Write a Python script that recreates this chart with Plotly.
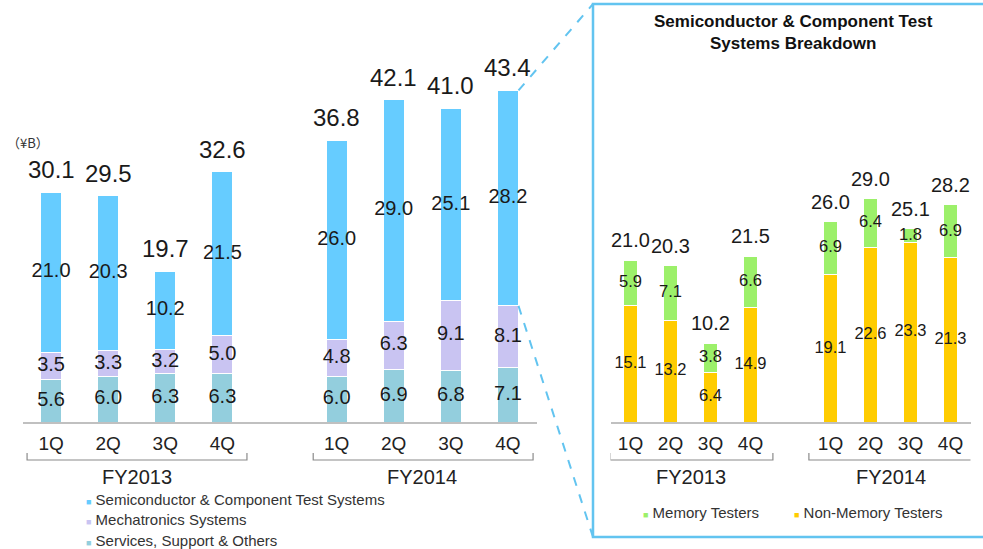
import plotly.graph_objects as go

# ---------------- data ----------------
quarters = ["1Q", "2Q", "3Q", "4Q"]
fiscal_years = ["FY2013", "FY2014"]

services = [5.6, 6.0, 6.3, 6.3, 6.0, 6.9, 6.8, 7.1]
mechatronics = [3.5, 3.3, 3.2, 5.0, 4.8, 6.3, 9.1, 8.1]
semicon = [21.0, 20.3, 10.2, 21.5, 26.0, 29.0, 25.1, 28.2]
totals_left = [30.1, 29.5, 19.7, 32.6, 36.8, 42.1, 41.0, 43.4]

non_memory = [15.1, 13.2, 6.4, 14.9, 19.1, 22.6, 23.3, 21.3]
memory = [5.9, 7.1, 3.8, 6.6, 6.9, 6.4, 1.8, 6.9]
totals_right = [21.0, 20.3, 10.2, 21.5, 26.0, 29.0, 25.1, 28.2]

left_series = [
    ("Services, Support & Others", services),
    ("Mechatronics Systems", mechatronics),
    ("Semiconductor & Component Test Systems", semicon),
]
right_series = [
    ("Non-Memory Testers", non_memory),
    ("Memory Testers", memory),
]

# ---------------- styles ----------------
W, H = 983, 549
FONT = "Liberation Sans, Arial, sans-serif"
TXT = "#1a1a1a"
COLORS = {
    "Semiconductor & Component Test Systems": "#66CCFF",
    "Mechatronics Systems": "#C9C4F2",
    "Services, Support & Others": "#93CEDD",
    "Memory Testers": "#9CF06A",
    "Non-Memory Testers": "#FFCC00",
}
BOX = "#62C4F0"
BAR_W = 0.37

xpos = [g * 5 + q for g in range(len(fiscal_years)) for q in range(len(quarters))]
ticktext = quarters * len(fiscal_years)


def px_x(p):
    return p / W


def px_y(p):
    return 1 - p / H


# domains (pixel based)
LX = (px_x(22.5), px_x(536.5))
LY = (px_y(422), px_y(40))
LYMAX = 50.0
RX = (px_x(610.5), px_x(970.5))
RY = (px_y(422), px_y(422 - 50 * 7.7))
RYMAX = 50.0
XR = (-0.5, 8.5)

fig = go.Figure()


def add_stack(series, xa, ya, size):
    base = [0.0] * len(xpos)
    for name, vals in series:
        fig.add_trace(go.Bar(
            x=xpos, y=vals, name=name, width=BAR_W,
            marker=dict(color=COLORS[name], line=dict(color="white", width=1)),
            xaxis=xa, yaxis=ya, showlegend=False, hoverinfo="skip",
        ))
        mids = [b + v / 2 for b, v in zip(base, vals)]
        fig.add_trace(go.Scatter(
            x=xpos, y=mids, mode="text", text=[f"{v:.1f}" for v in vals],
            textposition="middle center",
            textfont=dict(size=size, color=TXT, family=FONT),
            xaxis=xa, yaxis=ya, showlegend=False, hoverinfo="skip", cliponaxis=False,
        ))
        base = [b + v for b, v in zip(base, vals)]


add_stack(left_series, "x", "y", 20)
add_stack(right_series, "x2", "y2", 16.5)

annotations = []
for x, t in zip(xpos, totals_left):
    annotations.append(dict(x=x, y=t, xref="x", yref="y", text=f"{t:.1f}", showarrow=False,
                            xanchor="center", yanchor="middle", yshift=23,
                            font=dict(size=24, color=TXT, family=FONT)))
for x, t in zip(xpos, totals_right):
    annotations.append(dict(x=x, y=t, xref="x2", yref="y2", text=f"{t:.1f}", showarrow=False,
                            xanchor="center", yanchor="middle", yshift=20,
                            font=dict(size=20, color=TXT, family=FONT)))

# fiscal year labels
for gi, fy in enumerate(fiscal_years):
    cx = gi * 5 + 1.5
    for xa in ("x", "x2"):
        annotations.append(dict(x=cx, y=px_y(477), xref=xa, yref="paper", text=fy, showarrow=False,
                                xanchor="center", yanchor="middle",
                                font=dict(size=20, color="#222", family=FONT)))

# unit
annotations.append(dict(x=px_x(5), y=px_y(143), xref="paper", yref="paper", text="（¥B）",
                        xanchor="left", yanchor="middle", showarrow=False,
                        font=dict(size=13, color="#333", family="Noto Sans CJK JP, sans-serif")))

# title of breakdown panel
annotations.append(dict(x=px_x(793), y=px_y(33), xref="paper", yref="paper",
                        text="<b>Semiconductor & Component Test<br>Systems Breakdown</b>",
                        xanchor="center", yanchor="middle",
                        showarrow=False, font=dict(size=17, color="#111", family=FONT)))

# legends (as text)
left_legend = ["Semiconductor & Component Test Systems", "Mechatronics Systems", "Services, Support & Others"]
for i, name in enumerate(left_legend):
    annotations.append(dict(
        x=px_x(84), y=px_y(499 + i * 20.5), xref="paper", yref="paper", xanchor="left", yanchor="middle",
        text=f"<span style='color:{COLORS[name]};font-size:9px'>■</span> {name}",
        showarrow=False, font=dict(size=15, color="#333", family=FONT)))
for xl, name in zip([641, 792], ["Memory Testers", "Non-Memory Testers"]):
    annotations.append(dict(
        x=px_x(xl), y=px_y(512), xref="paper", yref="paper", xanchor="left", yanchor="middle",
        text=f"<span style='color:{COLORS[name]};font-size:9px'>■</span> {name}",
        showarrow=False, font=dict(size=15, color="#333", family=FONT)))

shapes = []
# group brackets
brk_y0, brk_y1 = px_y(453), px_y(460)
for xa, spans in [("x", [(-0.42, 3.43), (4.59, 8.44)]), ("x2", [(-0.51, 3.56), (4.46, 8.56)])]:
    for a, b in spans:
        shapes.append(dict(type="path", xref=xa, yref="paper",
                           path=f"M {a},{brk_y0} L {a},{brk_y1} L {b},{brk_y1} L {b},{brk_y0}",
                           line=dict(color="#8a8a8a", width=1.2)))

# breakdown panel box
box_x0, box_y0, box_y1 = px_x(593), px_y(537), px_y(4)
shapes.append(dict(type="rect", xref="paper", yref="paper", x0=box_x0, x1=1.01, y0=box_y0, y1=box_y1,
                   line=dict(color=BOX, width=2.5), fillcolor="rgba(255,255,255,0)", layer="below"))


# dashed connectors from last bar to panel
def data_to_paper_x(x):
    return LX[0] + (x - XR[0]) / (XR[1] - XR[0]) * (LX[1] - LX[0])


def data_to_paper_y(y):
    return LY[0] + y / LYMAX * (LY[1] - LY[0])


last = len(xpos) - 1
bx = data_to_paper_x(xpos[last] + BAR_W / 2)
top_y = data_to_paper_y(totals_left[last])
mech_top = data_to_paper_y(services[last] + mechatronics[last])
shapes.append(dict(type="line", xref="paper", yref="paper", x0=bx, y0=top_y, x1=box_x0, y1=box_y1,
                   line=dict(color=BOX, width=2, dash="dash")))
shapes.append(dict(type="line", xref="paper", yref="paper", x0=bx, y0=mech_top, x1=box_x0, y1=box_y0,
                   line=dict(color=BOX, width=2, dash="dash")))

xaxis_common = dict(range=list(XR), tickvals=xpos, ticktext=ticktext, showgrid=False, zeroline=False,
                    showline=True, linecolor="#c0c0c0", linewidth=2, ticks="outside", ticklen=3,
                    tickcolor="rgba(0,0,0,0)", tickfont=dict(size=19, color="#222", family=FONT),
                    fixedrange=True)
yaxis_common = dict(visible=False, showgrid=False, zeroline=False, fixedrange=True)

fig.update_layout(
    width=W, height=H, margin=dict(l=0, r=0, t=0, b=0),
    paper_bgcolor="white", plot_bgcolor="rgba(0,0,0,0)",
    barmode="stack", showlegend=False,
    font=dict(family=FONT, color=TXT),
    xaxis=dict(domain=list(LX), anchor="y", **xaxis_common),
    yaxis=dict(domain=list(LY), range=[0, LYMAX], anchor="x", **yaxis_common),
    xaxis2=dict(domain=list(RX), anchor="y2", **xaxis_common),
    yaxis2=dict(domain=list(RY), range=[0, RYMAX], anchor="x2", **yaxis_common),
    annotations=annotations, shapes=shapes,
)

fig.write_html(
    "out.html",
    config={"displayModeBar": False},
    post_script="document.body.style.margin='0';document.body.style.overflow='hidden';",
)
